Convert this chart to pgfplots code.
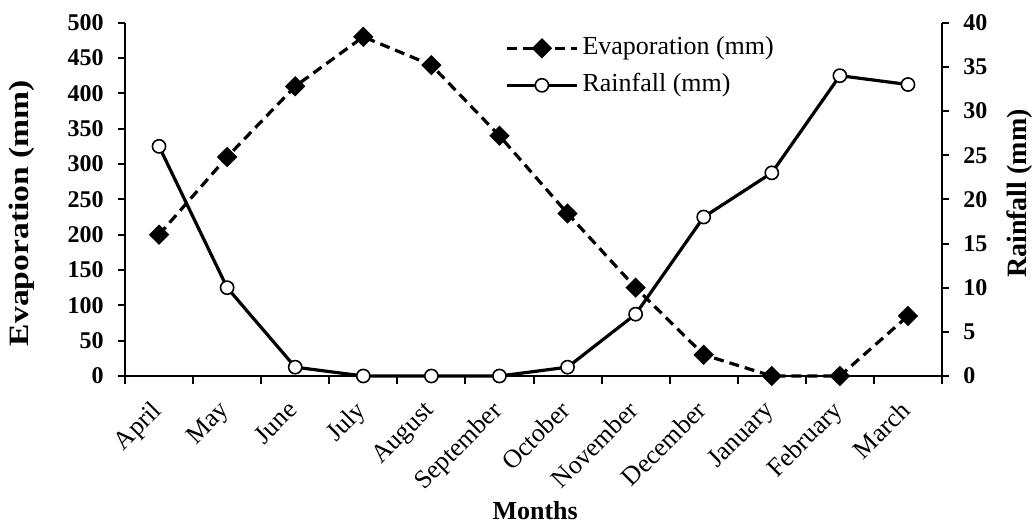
\documentclass[border=0pt]{standalone}
\usepackage{fontspec}
\setmainfont{Liberation Serif}
\usepackage{pgfplots}
\pgfplotsset{compat=1.18}

\pgfplotsset{
  base/.style={
    width=408.5pt, height=176.65pt, scale only axis,
    at={(0,0)}, anchor=south west,
    xmin=-0.5, xmax=11.5,
    clip=false,
    axis line style={-, line width=1pt},
    tick style={line width=1pt, black},
    tick align=outside,
    major tick length=3.5pt,
    /pgf/number format/assume math mode=true,
  },
  evap/.style={black, line width=1.6pt, dash pattern=on 5pt off 3pt,
    mark=square*, mark size=2.8pt, mark options={solid, rotate=45, fill=black}},
  rain/.style={black, line width=1.6pt, solid,
    mark=*, mark size=3.3pt, mark options={solid, fill=white, draw=black, line width=0.8pt}},
}

\begin{document}
\begin{tikzpicture}
\begin{axis}[base,
    axis x line*=bottom, axis y line*=left,
    ymin=0, ymax=500, ytick={0,50,...,500},
    xtick={0,...,11},
    xticklabels={April,May,June,July,August,September,October,November,December,January,February,March},
    every major x tick/.append style={draw=none},
    minor xtick={-0.5,0.5,...,11.5},
    minor tick length=4pt,
    xticklabel style={xshift=-4.5pt, yshift=-8pt, rotate=45, anchor=north east, inner sep=0pt,
      font=\fontsize{13}{13}\selectfont},
    yticklabel style={anchor=east, inner sep=0pt, xshift=-7pt,
      font=\fontsize{12}{12}\selectfont\bfseries},
    ylabel={Evaporation (mm)},
    ylabel style={at={(axis description cs:-0.126,0.461)}, anchor=center, rotate=0,
      font=\fontsize{14}{14}\selectfont\bfseries, xscale=1.2},
    xlabel={Months},
    xlabel style={at={(axis description cs:0.502,-0.405)}, anchor=base,
      font=\fontsize{13}{13}\selectfont\bfseries},
  ]
  \addplot[evap] coordinates {
    (0,200) (1,310) (2,410) (3,480) (4,440) (5,340)
    (6,230) (7,125) (8,30) (9,0) (10,0) (11,85)
  };
\end{axis}

\begin{axis}[base,
    axis x line=none, axis y line*=right,
    ymin=0, ymax=40, ytick={0,5,...,40},
    yticklabel style={anchor=west, inner sep=0pt, xshift=7pt,
      font=\fontsize{12}{12}\selectfont\bfseries},
    ylabel={Rainfall (mm)},
    ylabel style={at={(axis description cs:1.0955,0.5165)}, anchor=center, rotate=0,
      font=\fontsize{14}{14}\selectfont\bfseries},
    legend style={at={(axis description cs:0.465,0.981)}, anchor=north west,
      draw=none, fill=none, inner sep=0pt, row sep=0pt,
      font=\fontsize{13}{13}\selectfont,
      cells={anchor=west},
      nodes={inner ysep=2.5pt, inner xsep=2pt, text height=10pt, text depth=3.5pt}},
    legend image code/.code={
      \draw[mark repeat=2, mark phase=2] plot coordinates {(0pt,0pt) (17.5pt,0pt) (35pt,0pt)};},
  ]
  \addlegendimage{evap}
  \addlegendentry{Evaporation (mm)}
  \addplot[rain] coordinates {
    (0,26) (1,10) (2,1) (3,0) (4,0) (5,0)
    (6,1) (7,7) (8,18) (9,23) (10,34) (11,33)
  };
  \addlegendentry{Rainfall (mm)}
\end{axis}

\pgfresetboundingbox
\path (-62.5pt,-74pt) rectangle (454pt,188pt);
\end{tikzpicture}
\end{document}
